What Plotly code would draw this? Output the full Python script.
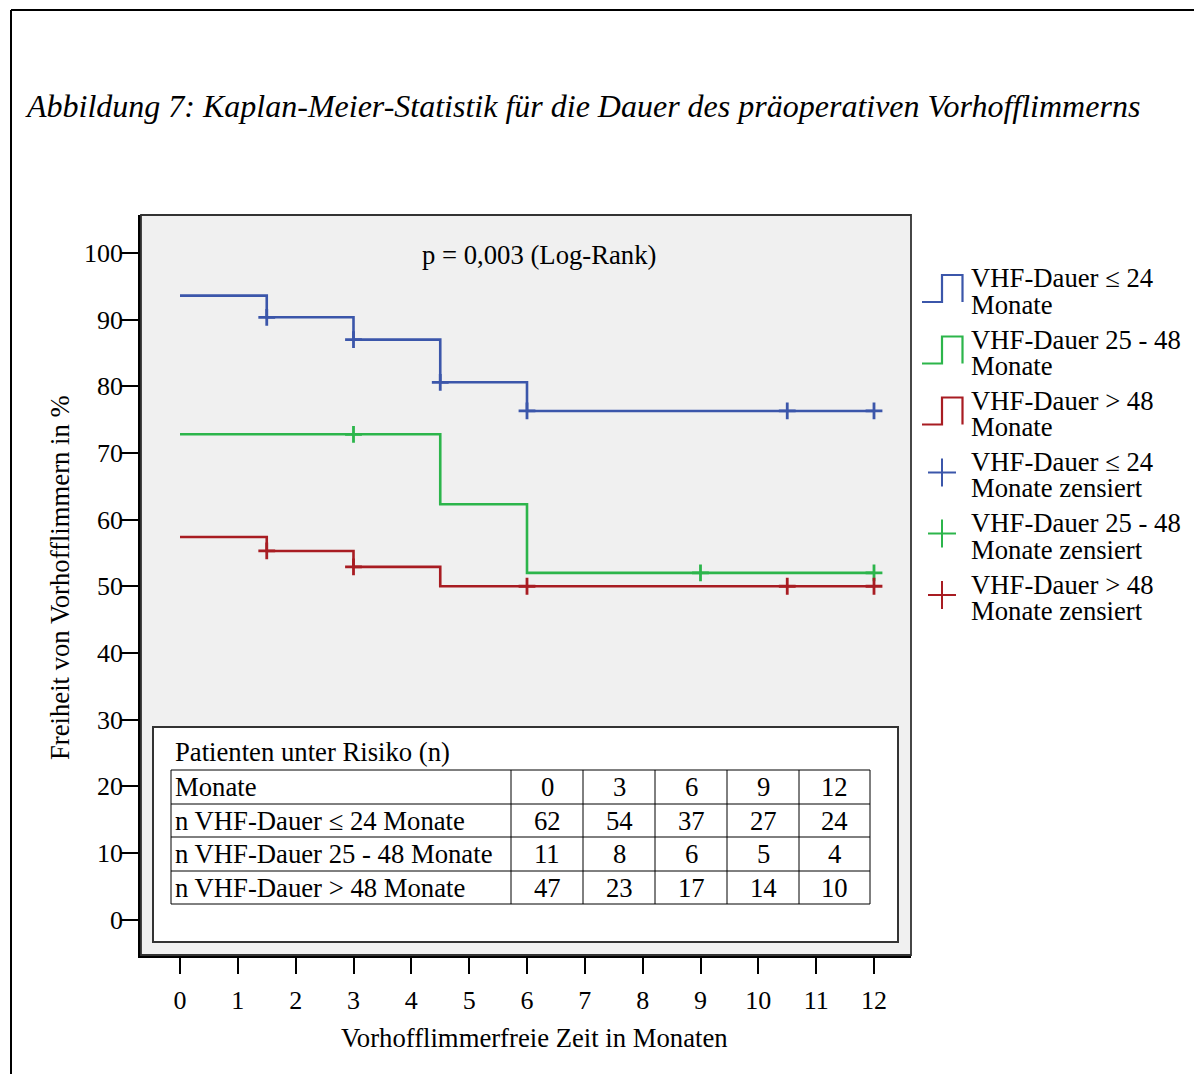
import plotly.graph_objects as go

# ---------------- data ----------------
group_names = ["VHF-Dauer ≤ 24 Monate", "VHF-Dauer 25 - 48 Monate", "VHF-Dauer > 48 Monate"]
colors = ["#3b56aa", "#2cb54b", "#a81c22"]

blue_t = [0, 1.5, 3, 4.5, 6, 12]
blue_s = [93.6, 90.35, 87.0, 80.6, 76.3, 76.3]
blue_cens_t = [1.5, 3, 4.5, 6, 10.5, 12]
blue_cens_s = [90.35, 87.0, 80.6, 76.3, 76.3, 76.3]

green_t = [0, 4.5, 6, 12]
green_s = [72.8, 62.3, 52.0, 52.0]
green_cens_t = [3, 9, 12]
green_cens_s = [72.8, 52.0, 52.0]

red_t = [0, 1.5, 3, 4.5, 12]
red_s = [57.4, 55.3, 52.9, 50.0, 50.0]
red_cens_t = [1.5, 3, 6, 10.5, 12]
red_cens_s = [55.3, 52.9, 50.0, 50.0, 50.0]

x_ticks = list(range(0, 13))
y_ticks = list(range(0, 101, 10))

table_title = "Patienten unter Risiko (n)"
table_months = [0, 3, 6, 9, 12]
table_row_labels = ["Monate", "n VHF-Dauer ≤ 24 Monate", "n VHF-Dauer 25 - 48 Monate", "n VHF-Dauer > 48 Monate"]
risk_le24 = [62, 54, 37, 27, 24]
risk_25_48 = [11, 8, 6, 5, 4]
risk_gt48 = [47, 23, 17, 14, 10]

legend_labels = [
    ("VHF-Dauer ≤ 24", "Monate"),
    ("VHF-Dauer 25 - 48", "Monate"),
    ("VHF-Dauer > 48", "Monate"),
    ("VHF-Dauer ≤ 24", "Monate zensiert"),
    ("VHF-Dauer 25 - 48", "Monate zensiert"),
    ("VHF-Dauer > 48", "Monate zensiert"),
]

title_text = "Abbildung 7: Kaplan-Meier-Statistik für die Dauer des präoperativen Vorhofflimmerns"
p_text = "p = 0,003 (Log-Rank)"
x_title = "Vorhofflimmerfreie Zeit in Monaten"
y_title = "Freiheit von Vorhofflimmern in %"

# ---------------- layout helpers ----------------
OFF = 8                      # page body margin of the html page
W, H = 1202 - OFF, 1074 - OFF
L, R, T, B = 141, 911, 215, 955   # plot box in page pixels
FONT = "Liberation Serif, Times New Roman, serif"
FS = 26.7


def px(xp):
    return (xp - L) / (R - L)


def py(yp):
    return (B - yp) / (B - T)


fig = go.Figure()

curves = [(blue_t, blue_s, blue_cens_t, blue_cens_s),
          (green_t, green_s, green_cens_t, green_cens_s),
          (red_t, red_s, red_cens_t, red_cens_s)]

for (t, s, ct, cs), c, name in zip(curves, colors, group_names):
    fig.add_trace(go.Scatter(x=t, y=s, mode="lines", line=dict(color=c, width=2.6, shape="hv"),
                             name=name, showlegend=False, hoverinfo="skip"))
for (t, s, ct, cs), c, name in zip(curves, colors, group_names):
    fig.add_trace(go.Scatter(x=ct, y=cs, mode="markers",
                             marker=dict(symbol="cross-thin", size=12, line=dict(color=c, width=2.8)),
                             name=name + " zensiert", showlegend=False, hoverinfo="skip"))

shapes = []
annotations = []

# outer page frame
shapes.append(dict(type="line", xref="paper", yref="paper", x0=px(11), x1=px(1215), y0=py(10), y1=py(10),
                   line=dict(color="black", width=2)))
shapes.append(dict(type="line", xref="paper", yref="paper", x0=px(11), x1=px(11), y0=py(10), y1=py(1090),
                   line=dict(color="black", width=2)))

# plot box top/right border (lighter than the axes)
shapes.append(dict(type="rect", xref="paper", yref="paper", x0=0, x1=1, y0=0, y1=1,
                   line=dict(color="#333333", width=1.8), layer="above"))

# risk table box
shapes.append(dict(type="rect", xref="paper", yref="paper", x0=px(153), x1=px(898), y0=py(727), y1=py(942),
                   line=dict(color="#333333", width=2), fillcolor="white", layer="above"))
col_edges = [171, 511, 583, 655, 727, 799, 870]
row_edges = [770, 804, 837, 871, 904]
for xe in col_edges:
    shapes.append(dict(type="line", xref="paper", yref="paper", x0=px(xe), x1=px(xe),
                       y0=py(row_edges[0]), y1=py(row_edges[-1]), line=dict(color="black", width=1), layer="above"))
for ye in row_edges:
    shapes.append(dict(type="line", xref="paper", yref="paper", x0=px(col_edges[0]), x1=px(col_edges[-1]),
                       y0=py(ye), y1=py(ye), line=dict(color="black", width=1), layer="above"))

annotations.append(dict(text=table_title, xref="paper", yref="paper", x=px(173), y=py(752),
                        xanchor="left", yanchor="middle", showarrow=False, font=dict(size=FS, family=FONT, color="black")))
rows = [table_months, risk_le24, risk_25_48, risk_gt48]
for i, (lab, vals) in enumerate(zip(table_row_labels, rows)):
    yc = (row_edges[i] + row_edges[i + 1]) / 2
    annotations.append(dict(text=lab, xref="paper", yref="paper", x=px(173), y=py(yc),
                            xanchor="left", yanchor="middle", showarrow=False,
                            font=dict(size=FS, family=FONT, color="black")))
    for j, v in enumerate(vals):
        xc = (col_edges[j + 1] + col_edges[j + 2]) / 2
        annotations.append(dict(text=str(v), xref="paper", yref="paper", x=px(xc), y=py(yc),
                                xanchor="center", yanchor="middle", showarrow=False,
                                font=dict(size=FS, family=FONT, color="black")))

# custom legend
leg_tops = [275, 336.5, 397.5]
for k, c in enumerate(colors):
    top = leg_tops[k]
    bot = top + 27
    path = "M {a},{b} L {c},{b} L {c},{d} L {e},{d} L {e},{b}".format(
        a=px(922), b=py(bot), c=px(942), d=py(top), e=px(962.5))
    shapes.append(dict(type="path", xref="paper", yref="paper", path=path,
                       line=dict(color=c, width=2.2)))
cross_centers = [472.5, 533.5, 595]
for k, c in enumerate(colors):
    cy = cross_centers[k]
    shapes.append(dict(type="line", xref="paper", yref="paper", x0=px(928), x1=px(956), y0=py(cy), y1=py(cy),
                       line=dict(color=c, width=2)))
    shapes.append(dict(type="line", xref="paper", yref="paper", x0=px(942), x1=px(942), y0=py(cy - 14), y1=py(cy + 14),
                       line=dict(color=c, width=2)))

leg_line1 = [278, 339.5, 400.5, 461.5, 523, 584.5]
for k, (l1, l2) in enumerate(legend_labels):
    for text, yc in ((l1, leg_line1[k]), (l2, leg_line1[k] + 26.5)):
        annotations.append(dict(text=text, xref="paper", yref="paper", x=px(969), y=py(yc),
                                xanchor="left", yanchor="middle", showarrow=False,
                                font=dict(size=FS, family=FONT, color="black")))

# texts
annotations.append(dict(text="<i>" + title_text + "</i>", xref="paper", yref="paper", x=px(23), y=py(106),
                        xanchor="left", yanchor="middle", showarrow=False,
                        font=dict(size=32, family=FONT, color="black")))
annotations.append(dict(text=p_text, xref="paper", yref="paper", x=px(539), y=py(255),
                        xanchor="center", yanchor="middle", showarrow=False,
                        font=dict(size=FS, family=FONT, color="black")))
annotations.append(dict(text=x_title, xref="paper", yref="paper", x=px(534), y=py(1038),
                        xanchor="center", yanchor="middle", showarrow=False,
                        font=dict(size=FS, family=FONT, color="black")))
annotations.append(dict(text=y_title, xref="paper", yref="paper", x=px(60), y=py(578),
                        xanchor="center", yanchor="middle", showarrow=False, textangle=-90,
                        font=dict(size=FS, family=FONT, color="black")))

# axis ranges from page pixel positions of the ticks (x: 0 at 180, 12 at 874; y: 0 at 919.5, 100 at 253)
xs = (874 - 180) / 12
ys = (919.5 - 253) / 100
x_lo = 0 - (180 - L) / xs
x_hi = 12 + (R - 874) / xs
y_lo = 0 - (B - 919.5) / ys
y_hi = 100 + (253 - T) / ys

fig.update_layout(
    width=W, height=H,
    margin=dict(l=L - OFF, r=W - (R - OFF), t=T - OFF, b=H - (B - OFF), pad=0),
    paper_bgcolor="white",
    plot_bgcolor="#f0f0f0",
    showlegend=False,
    shapes=shapes,
    annotations=annotations,
    font=dict(family=FONT, size=FS, color="black"),
    xaxis=dict(range=[x_lo, x_hi], tickvals=x_ticks, ticktext=[str(v) for v in x_ticks],
               showgrid=False, zeroline=False, showline=True, linecolor="black", linewidth=2.5, mirror=False,
               ticks="outside", ticklen=16, tickwidth=2.2, tickcolor="black", ticklabelstandoff=4,
               tickfont=dict(size=26, family=FONT, color="black")),
    yaxis=dict(range=[y_lo, y_hi], tickvals=y_ticks, ticktext=[str(v) for v in y_ticks],
               showgrid=False, zeroline=False, showline=True, linecolor="black", linewidth=2.5, mirror=False,
               ticks="outside", ticklen=18, tickwidth=2.2, tickcolor="black", ticklabelstandoff=-8,
               tickfont=dict(size=26, family=FONT, color="black")),
)

fig.write_html("out.html")
